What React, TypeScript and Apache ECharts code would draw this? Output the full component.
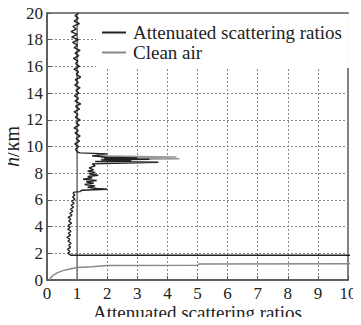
import React, { useEffect, useRef } from "react";
import * as echarts from "echarts";

// Attenuated scattering ratio profile (ratio vs height km)
const attHeights = [
  1.85, 1.85, 2.0, 2.15, 2.3, 2.45, 2.6, 2.75, 2.9, 3.05, 3.2, 3.35, 3.5, 3.65, 3.8, 3.95, 4.1, 4.25, 4.4, 4.55, 4.7,
  4.85, 5.0, 5.15, 5.3, 5.45, 5.6, 5.75, 5.9, 6.05, 6.2, 6.35, 6.5,
  6.58, 6.62, 6.72, 6.8, 6.85, 6.95, 7.05, 7.15, 7.25, 7.35, 7.45, 7.55, 7.65, 7.75, 7.85, 7.95, 8.05, 8.15, 8.25,
  8.4, 8.55, 8.7, 8.82, 8.88, 8.95, 9.0, 9.05, 9.1, 9.15, 9.2, 9.3, 9.45, 9.52, 9.6,
  9.8, 10.0, 10.2, 10.4, 10.6, 10.8, 11.0, 11.2, 11.4, 11.6, 11.8, 12.0, 12.2, 12.4, 12.6, 12.8, 13.0, 13.2, 13.4,
  13.6, 13.8, 14.0, 14.2, 14.4, 14.6, 14.8, 15.0, 15.2, 15.4, 15.6, 15.8, 16.0, 16.2, 16.4, 16.6, 16.8, 17.0, 17.2,
  17.4, 17.6, 17.8, 18.0, 18.2, 18.4, 18.6, 18.8, 19.0, 19.2, 19.4, 19.6, 19.8, 20.0,
];
const attRatios = [
  12, 0.8, 0.7, 0.76, 0.68, 0.78, 0.72, 0.8, 0.7, 0.76, 0.66, 0.78, 0.71, 0.8, 0.69, 0.77, 0.7, 0.82, 0.72, 0.79, 0.7,
  0.83, 0.76, 0.86, 0.78, 0.88, 0.8, 0.9, 0.82, 0.93, 0.85, 0.92, 0.87,
  0.9, 1.1, 1.15, 2.0, 1.65, 1.35, 1.6, 1.25, 1.55, 1.3, 1.65, 1.2, 1.5, 1.35, 1.7, 1.4, 1.6, 1.35, 1.55,
  1.4, 1.6, 1.5, 3.7, 1.6, 2.8, 1.8, 3.4, 1.9, 3.0, 2.0, 1.5, 2.0, 1.1, 1.0,
  0.95, 1.05, 0.92, 1.08, 0.97, 1.1, 0.93, 1.04, 0.9, 1.07, 0.96, 1.1, 0.94, 1.03, 0.9, 1.08, 0.95, 1.12, 0.93,
  1.05, 0.91, 1.06, 0.96, 1.1, 0.92, 1.04, 0.94, 1.12, 0.97, 1.05, 0.9, 1.08, 0.95, 1.03, 0.88, 1.06, 0.93, 1.1,
  0.9, 1.02, 0.85, 1.05, 0.82, 1.0, 0.8, 0.97, 0.86, 1.08, 0.9, 1.04, 0.93, 1.06,
];

// Near-ground (overlap) part, drawn in grey
const nearHeights = [0, 0.15, 0.35, 0.55, 0.72, 0.85, 0.93, 1.0, 1.08, 1.1, 1.2, 1.22, 1.22];
const nearRatios = [0.1, 0.12, 0.2, 0.35, 0.55, 0.8, 1.0, 1.5, 2.0, 5.0, 5.05, 10.0, 12.0];

// Grey spike around 9 km
const spikeHeights = [9.0, 9.08, 9.15, 9.22, 9.3];
const spikeRatios = [1.8, 4.4, 1.8, 4.3, 1.5];

// Clean air reference
const cleanHeights = [0, 20];
const cleanRatios = [1, 1];

const xTicks = [0, 10, 1];
const yTicks = [0, 20, 2];

const zip = (xs: number[], ys: number[]) => xs.map((x, i) => [x, ys[i]]);

const FONT = "'Liberation Serif', 'DejaVu Serif', serif";

export default function App() {
  const ref = useRef<HTMLDivElement>(null);
  useEffect(() => {
    if (!ref.current) return;
    const chart = echarts.init(ref.current, undefined, { renderer: "svg" });
    chart.setOption({
      animation: false,
      textStyle: { fontFamily: FONT },
      grid: {
        left: 47,
        right: 13,
        top: 13,
        bottom: 45,
        outerBoundsMode: "none",
        containLabel: false,
        show: true,
        borderColor: "#555",
        borderWidth: 1.5,
        backgroundColor: "#fff",
      },
      legend: {
        data: ["Attenuated scattering ratios", "Clean air"],
        orient: "vertical",
        left: 96,
        top: 14,
        padding: [9, 7, 6, 6],
        itemGap: 1,
        icon: "rect",
        itemWidth: 24,
        itemHeight: 2,
        backgroundColor: "#fff",
        textStyle: { fontFamily: FONT, fontSize: 19, color: "#222", padding: [0, 0, 0, 2] },
      },
      xAxis: {
        type: "value",
        min: xTicks[0],
        max: xTicks[1],
        interval: xTicks[2],
        name: "Attenuated scattering ratios",
        nameLocation: "middle",
        nameGap: 23,
        nameMoveOverlap: false,
        nameTextStyle: { fontFamily: FONT, fontSize: 19, color: "#222", lineHeight: 19 },
        axisLine: { show: true, lineStyle: { color: "#555", width: 1.5 } },
        axisTick: { show: true, inside: true, length: 4, lineStyle: { color: "#555" } },
        axisLabel: { fontFamily: FONT, fontSize: 17, color: "#222", margin: 5, lineHeight: 17 },
        splitLine: { show: true, lineStyle: { color: "#888", type: [2, 2], width: 1 } },
      },
      yAxis: {
        type: "value",
        min: yTicks[0],
        max: yTicks[1],
        interval: yTicks[2],
        name: "{i|h}/km",
        nameLocation: "middle",
        nameGap: 25,
        nameMoveOverlap: false,
        nameTextStyle: {
          fontFamily: FONT,
          fontSize: 20,
          color: "#222",
          rich: { i: { fontFamily: FONT, fontSize: 20, fontStyle: "italic", color: "#222" } },
        },
        axisLine: { show: true, lineStyle: { color: "#555", width: 1.5 } },
        axisTick: { show: true, inside: true, length: 4, lineStyle: { color: "#555" } },
        axisLabel: { fontFamily: FONT, fontSize: 17, color: "#222", margin: 4 },
        splitLine: { show: true, lineStyle: { color: "#888", type: [2, 2], width: 1 } },
      },
      series: [
        {
          name: "Clean air",
          type: "line",
          data: zip(cleanRatios, cleanHeights),
          showSymbol: false,
          symbol: "none",
          lineStyle: { color: "#6f6f6f", width: 1.5 },
          itemStyle: { color: "#888" },
          z: 2,
        },
        {
          name: "near",
          type: "line",
          data: zip(nearRatios, nearHeights),
          showSymbol: false,
          symbol: "none",
          lineStyle: { color: "#888", width: 1.5 },
          z: 2,
        },
        {
          name: "spike",
          type: "line",
          data: zip(spikeRatios, spikeHeights),
          showSymbol: false,
          symbol: "none",
          lineStyle: { color: "#999", width: 1.5 },
          z: 2,
        },
        {
          name: "Attenuated scattering ratios",
          type: "line",
          data: zip(attRatios, attHeights),
          showSymbol: false,
          symbol: "none",
          lineStyle: { color: "#222", width: 1.4 },
          itemStyle: { color: "#222" },
          z: 3,
        },
      ],
    });
    return () => chart.dispose();
  }, []);
  return <div ref={ref} style={{ width: 361, height: 325, margin: -8 }} />;
}
